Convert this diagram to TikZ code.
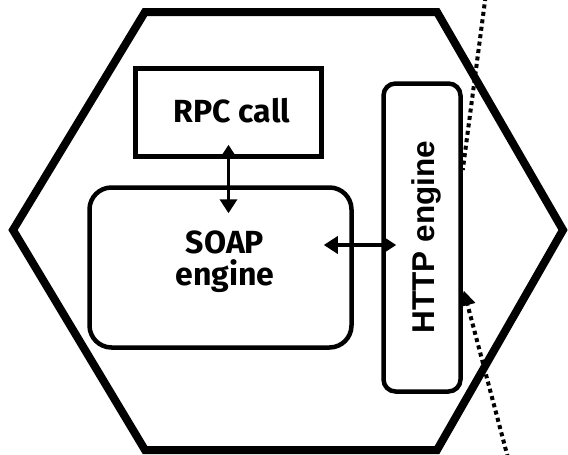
\documentclass[tikz,border=0pt]{standalone}
\usepackage{fontspec}
\setmainfont{Liberation Sans}
\newfontfamily\boxfont{Fira Sans}
\newfontfamily\httpfont{Liberation Sans}
\usetikzlibrary{arrows.meta,calc}

\tikzset{
  boxline/.style={draw, line width=4.5pt, inner sep=0pt},
  boxlabel/.style={font=\boxfont\bfseries\fontsize{32}{36}\selectfont, align=center, inner sep=0pt},
  link/.style={line width=3.5pt, {Triangle[length=14pt,width=17pt]}-{Triangle[length=14pt,width=17pt]}},
  wire/.style={line width=4pt, dash pattern=on 4pt off 3.5pt},
}

\begin{document}
\begin{tikzpicture}[x=1pt, y=-1pt]
\useasboundingbox (0,0) rectangle (568,455);

% outer hexagon
\draw[line width=8pt, line join=miter]
  (145,12) -- (437,12) -- (563,230) -- (437,450) -- (145,450) -- (13,230) -- cycle;

% boxes
\node[boxline, minimum width=186pt, minimum height=88pt] (rpc) at (228.5,112.5) {};
\node[boxlabel] (rpctext) at (232,111) {RPC call};

\node[boxline, rounded corners=22pt, minimum width=262pt, minimum height=160pt] (soap) at (220.5,267.5) {};
\node[boxlabel] (soaptext) at (225,262) {SOAP\\[-4pt]engine};

\node[boxline, rounded corners=12pt, minimum width=77pt, minimum height=308pt] (http) at (422,237.5) {};
\node[font=\httpfont\bfseries\fontsize{31.5}{36}\selectfont, rotate=90, inner sep=0pt] (httptext) at (426,237) {HTTP engine};

% links between the engines
\draw[link] ($(rpc.south)+(0,-14)$) -- ($(rpc.south |- soap.north)+(0,28)$);
\draw[link] ($(soap.east)+(-30,-22.5)$) -- ($(http.west |- soap.east)+(15,-22.5)$);

% network wire in and out of the HTTP engine
\coordinate (wiretop) at (485.5,-3);
\coordinate (wirebot) at (508,458);
\draw[wire] (wiretop) -- ($(http.east)+(0,-67.5)$);
\draw[wire, -{Triangle[length=15pt,width=15pt]}] (wirebot) -- ($(http.east)+(1,53)$);
\end{tikzpicture}
\end{document}
